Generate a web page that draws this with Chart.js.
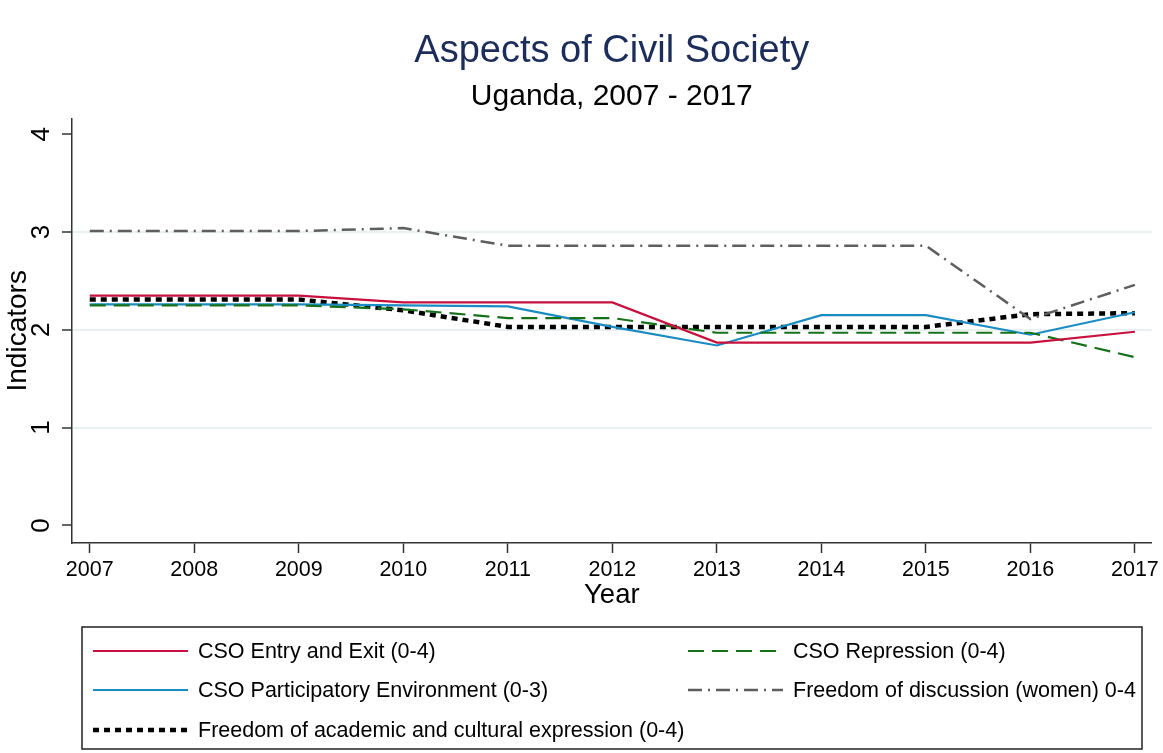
<!DOCTYPE html>
<html>
<head>
<meta charset="utf-8">
<script src="https://cdn.jsdelivr.net/npm/chart.js@4/dist/chart.umd.min.js"></script>
<style>
    html, body { margin: 0; padding: 0; background: #fff; }
    #wrap { width: 1163px; height: 753px; position: relative; }
</style>
</head>
<body>
<div id="wrap"><canvas id="chart"></canvas></div>
<script>
// Chart data
const years = [2007, 2008, 2009, 2010, 2011, 2012, 2013, 2014, 2015, 2016, 2017];
const entryExit = [2.35, 2.35, 2.35, 2.28, 2.28, 2.28, 1.87, 1.87, 1.87, 1.87, 1.98];
const repression = [2.25, 2.25, 2.25, 2.21, 2.12, 2.12, 1.97, 1.97, 1.97, 1.97, 1.72];
const participatory = [2.26, 2.26, 2.26, 2.25, 2.24, 2.03, 1.84, 2.15, 2.15, 1.95, 2.18];
const discussionWomen = [3.01, 3.01, 3.01, 3.04, 2.86, 2.86, 2.86, 2.86, 2.86, 2.11, 2.46];
const academicExpr = [2.31, 2.31, 2.31, 2.20, 2.03, 2.03, 2.03, 2.03, 2.03, 2.16, 2.17];
const yTicks = [0, 1, 2, 3, 4];

const FONT = 'Helvetica, Arial, "Liberation Sans", sans-serif';

function points(values) {
    return years.map((yr, i) => ({ x: yr, y: values[i] }));
}

function series(label, values, color, width, dash, col, row) {
    return {
        label: label,
        data: points(values),
        borderColor: color,
        borderWidth: width,
        borderDash: dash,
        pointRadius: 0,
        tension: 0,
        fill: false,
        legendCol: col,
        legendRow: row
    };
}

// Boxed two-column legend, as in the Stata original
const boxLegend = {
    id: 'boxLegend',
    afterDraw(chart) {
        const ctx = chart.ctx;
        ctx.save();
        ctx.strokeStyle = '#222';
        ctx.lineWidth = 1.5;
        ctx.strokeRect(82, 627, 1060, 122);
        const colX = [93, 688];
        const rowY = [651, 690, 730];
        ctx.font = '21.5px ' + FONT;
        ctx.textBaseline = 'middle';
        ctx.fillStyle = '#000';
        chart.data.datasets.forEach(ds => {
            const x = colX[ds.legendCol];
            const y = rowY[ds.legendRow];
            ctx.beginPath();
            ctx.strokeStyle = ds.borderColor;
            ctx.lineWidth = ds.borderWidth;
            ctx.setLineDash(ds.borderDash);
            ctx.moveTo(x, y);
            ctx.lineTo(x + 95, y);
            ctx.stroke();
            ctx.setLineDash([]);
            ctx.fillText(ds.label, x + 105, y + 1);
        });
        ctx.restore();
    }
};

const ctx = document.getElementById('chart');
new Chart(ctx, {
    type: 'line',
    data: {
        datasets: [
            series('CSO Entry and Exit (0-4)', entryExit, '#c8103e', 2.2, [], 0, 0),
            series('CSO Repression (0-4)', repression, '#16711b', 2.2, [16, 8], 1, 0),
            series('CSO Participatory Environment (0-3)', participatory, '#1b8cc3', 2.2, [], 0, 1),
            series('Freedom of discussion (women) 0-4', discussionWomen, '#5e5e5e', 2.5, [14, 6, 2, 6], 1, 1),
            series('Freedom of academic and cultural expression (0-4)', academicExpr, '#000000', 4.5, [6, 5], 0, 2)
        ]
    },
    options: {
        responsive: true,
        maintainAspectRatio: false,
        animation: false,
        layout: {
            padding: { left: 0, right: 10, top: 0, bottom: 140 }
        },
        plugins: {
            legend: { display: false },
            tooltip: { enabled: false },
            title: {
                display: true,
                fullSize: false,
                text: 'Aspects of Civil Society',
                color: '#1c2d5b',
                font: { family: FONT, size: 38, weight: 'normal', lineHeight: 1.2 },
                padding: { top: 29, bottom: 0 }
            },
            subtitle: {
                display: true,
                fullSize: false,
                text: 'Uganda, 2007 - 2017',
                color: '#000',
                font: { family: FONT, size: 30, weight: 'normal', lineHeight: 1.2 },
                padding: { top: 4, bottom: 4 }
            }
        },
        scales: {
            x: {
                type: 'linear',
                min: 2006.83,
                max: 2017.16,
                afterBuildTicks: axis => { axis.ticks = years.map(v => ({ value: v })); },
                afterFit: axis => { axis.height = 70; },
                border: { display: true, color: '#333', width: 1.5 },
                grid: { drawOnChartArea: false, tickLength: 10, tickColor: '#333', tickWidth: 1.5 },
                ticks: {
                    color: '#000',
                    font: { family: FONT, size: 21.5 },
                    padding: 4,
                    maxRotation: 0,
                    callback: v => String(v)
                },
                title: {
                    display: true,
                    text: 'Year',
                    color: '#000',
                    font: { family: FONT, size: 27.5 },
                    padding: { top: 0, bottom: 1 }
                }
            },
            y: {
                min: -0.18,
                max: 4.16,
                afterBuildTicks: axis => { axis.ticks = yTicks.map(v => ({ value: v })); },
                afterFit: axis => { axis.width = 72; },
                border: { display: true, color: '#333', width: 1.5 },
                grid: {
                    tickLength: 10,
                    tickColor: '#333',
                    tickWidth: 1.5,
                    lineWidth: 2,
                    color: c => (c.tick && c.tick.value > 0 && c.tick.value < 4) ? '#e9f0f1' : 'transparent'
                },
                ticks: {
                    color: '#000',
                    font: { family: FONT, size: 26 },
                    padding: 13,
                    minRotation: 90,
                    maxRotation: 90,
                    crossAlign: 'center',
                    callback: v => String(v)
                },
                title: {
                    display: true,
                    text: 'Indicators',
                    color: '#000',
                    font: { family: FONT, size: 28 },
                    padding: { top: 1, bottom: 0 }
                }
            }
        }
    },
    plugins: [boxLegend]
});
</script>
</body>
</html>
